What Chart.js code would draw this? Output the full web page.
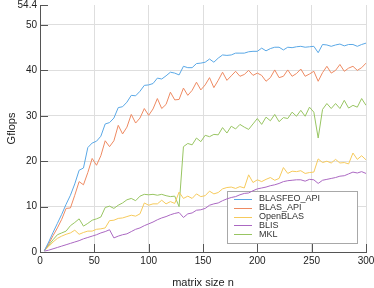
<!DOCTYPE html>
<html>
<head>
<meta charset="utf-8">
<script src="https://cdn.jsdelivr.net/npm/chart.js@4/dist/chart.umd.min.js"></script>
<style>
  html, body { margin: 0; padding: 0; background: #fff; }
  canvas { display: block; }
</style>
</head>
<body>
<canvas id="gflopsChart" width="374" height="288"></canvas>
<script>
// matrix sizes n
const sizes = [4, 8, 12, 16, 20, 24, 28, 32, 36, 40, 44, 48, 52, 56, 60, 64, 68, 72, 76, 80,
  84, 88, 92, 96, 100, 104, 108, 112, 116, 120, 124, 128, 132, 136, 140, 144, 148, 152, 156, 160,
  164, 168, 172, 176, 180, 184, 188, 192, 196, 200, 204, 208, 212, 216, 220, 224, 228, 232, 236, 240,
  244, 248, 252, 256, 260, 264, 268, 272, 276, 280, 284, 288, 292, 296, 300];

// Gflops par serie
const blasfeoApi = [0.3, 2.2, 4.3, 6.3, 8.3, 10.5, 12.5, 15.0, 18.0, 18.5, 23.0, 24.0, 24.4, 25.5, 28.2, 28.5, 29.5, 31.8, 32.0, 33.0,
  34.5, 34.4, 35.4, 36.7, 36.8, 37.1, 38.3, 38.1, 38.8, 39.6, 39.4, 39.0, 40.9, 40.6, 40.6, 41.5, 41.6, 41.8, 42.5, 41.8,
  42.7, 43.4, 43.3, 43.4, 43.8, 43.8, 43.8, 44.1, 44.2, 44.2, 44.9, 44.3, 44.8, 45.1, 45.1, 44.5, 45.1, 45.0, 45.2, 45.3,
  45.1, 45.2, 45.3, 43.9, 45.7, 45.6, 45.3, 45.6, 45.8, 45.4, 45.7, 45.7, 45.3, 45.7, 46.0];
const blasApi = [0.3, 1.8, 3.6, 5.3, 7.2, 9.6, 9.7, 12.5, 15.5, 14.8, 17.5, 20.6, 19.1, 21.2, 24.5, 23.2, 24.5, 27.9, 26.0, 27.5,
  30.3, 28.4, 29.5, 31.6, 30.1, 31.5, 33.8, 31.6, 32.5, 35.2, 33.5, 33.6, 36.1, 34.5, 35.6, 37.4, 35.7, 36.8, 38.4, 36.2,
  37.8, 39.6, 37.8, 38.8, 39.8, 38.7, 39.1, 40.0, 38.9, 39.4, 38.9, 37.6, 38.4, 40.1, 38.4, 38.7, 40.1, 38.7, 39.3, 40.3,
  38.7, 39.2, 39.8, 37.6, 39.5, 40.9, 39.4, 40.0, 41.3, 39.8, 40.5, 40.9, 40.0, 40.6, 41.6];
const openBlas = [0.3, 1.2, 2.2, 3.0, 3.5, 3.9, 4.2, 4.8, 3.9, 4.3, 4.6, 4.6, 5.0, 5.1, 5.3, 6.9, 7.0, 7.4, 7.5, 7.8,
  8.1, 7.9, 8.4, 10.8, 10.3, 10.6, 10.6, 11.4, 10.6, 11.1, 10.7, 13.2, 11.8, 12.3, 11.8, 12.8, 12.2, 12.4, 13.4, 12.8,
  13.1, 13.9, 14.2, 14.3, 14.0, 14.4, 14.1, 17.0, 15.3, 15.9, 15.5, 16.0, 16.4, 15.8, 16.2, 18.6, 17.3, 17.8, 17.7, 17.9,
  17.3, 17.5, 17.6, 20.5, 19.7, 20.0, 19.6, 20.4, 19.6, 19.7, 19.4, 21.8, 20.4, 21.2, 20.3];
const blis = [0.2, 0.4, 0.7, 1.0, 1.3, 1.6, 1.9, 2.2, 2.5, 2.9, 3.2, 3.5, 3.8, 4.2, 4.5, 4.9, 3.1, 3.5, 3.8, 4.0,
  4.5, 5.0, 5.3, 5.8, 6.2, 6.6, 7.1, 7.5, 7.8, 8.2, 8.5, 8.7, 7.6, 8.4, 8.6, 9.2, 9.3, 9.6, 10.3, 10.6,
  10.8, 11.3, 11.7, 12.0, 12.2, 12.6, 12.9, 13.0, 13.5, 13.9, 14.1, 14.3, 14.6, 14.8, 15.1, 15.5, 15.7, 15.8, 15.9, 15.9,
  15.6, 16.0, 15.9, 15.1, 15.8, 16.0, 16.2, 16.4, 16.7, 16.8, 17.2, 17.6, 17.4, 17.7, 17.3];
const mkl = [0.3, 1.5, 2.7, 3.8, 4.2, 4.6, 5.8, 6.5, 7.3, 5.7, 6.3, 7.0, 7.3, 7.7, 9.8, 10.1, 9.6, 10.3, 10.8, 11.5,
  11.8, 11.3, 12.3, 12.7, 12.6, 12.7, 12.5, 12.7, 12.4, 12.2, 12.3, 10.0, 23.2, 23.9, 23.6, 25.1, 24.3, 25.7, 25.4, 25.9,
  25.8, 27.4, 26.2, 27.7, 27.1, 28.1, 27.5, 27.0, 28.2, 29.4, 28.1, 29.7, 28.9, 30.3, 28.7, 29.6, 29.4, 30.8, 29.9, 31.2,
  29.9, 31.9, 30.8, 25.1, 31.4, 32.7, 31.6, 32.7, 31.6, 33.4, 31.7, 32.3, 31.9, 33.8, 32.3];

const seriesNames = ['BLASFEO_API', 'BLAS_API', 'OpenBLAS', 'BLIS', 'MKL'];
const seriesColors = ['#5aa8e6', '#ee8a62', '#f6ca5c', '#ab68c2', '#98c562'];
const yTicks = [0, 10, 20, 30, 40, 50, 54.4];
const xTicks = [0, 50, 100, 150, 200, 250, 300];

function pts(vals) {
  return vals.map((v, i) => ({ x: sizes[i], y: v }));
}

const allSeries = [blasfeoApi, blasApi, openBlas, blis, mkl];

const axisColor = '#555';
const gridColor = '#dedede';
const txtColor = '#222';
const fontFam = '"Liberation Sans", Arial, sans-serif';

// petits traits vers l'interieur + legende encadree
const innerStuff = {
  id: 'innerStuff',
  beforeDatasetsDraw(chart) {
    const c = chart.ctx;
    const a = chart.chartArea;
    const xs = chart.scales.x, ys = chart.scales.y;

    // legende
    const lw = 130, lh = 52;
    const lx = a.right - 9 - lw, ly = a.bottom - 9 - lh;
    c.save();
    c.fillStyle = '#fff';
    c.fillRect(lx, ly, lw, lh);
    c.strokeStyle = '#a8a8a8';
    c.lineWidth = 1;
    c.strokeRect(Math.round(lx) + 0.5, Math.round(ly) + 0.5, lw, lh);
    c.font = '9px ' + fontFam;
    c.textBaseline = 'middle';
    chart.data.datasets.forEach((ds, i) => {
      const yy = ly + 8 + i * 8.8;
      c.strokeStyle = ds.borderColor;
      c.beginPath();
      c.moveTo(lx + 7, Math.round(yy) + 0.5);
      c.lineTo(lx + 25, Math.round(yy) + 0.5);
      c.stroke();
      c.fillStyle = '#333';
      c.fillText(ds.label, lx + 32, yy);
    });

    // ticks
    c.strokeStyle = axisColor;
    c.lineWidth = 1;
    c.beginPath();
    xTicks.forEach(v => {
      const px = Math.round(xs.getPixelForValue(v)) + 0.5;
      c.moveTo(px, a.bottom);
      c.lineTo(px, a.bottom - 8);
    });
    yTicks.forEach(v => {
      const py = Math.round(ys.getPixelForValue(v)) + 0.5;
      c.moveTo(a.left, py);
      c.lineTo(a.left + 8, py);
    });
    c.stroke();
    c.restore();
  }
};

new Chart(document.getElementById('gflopsChart'), {
  type: 'line',
  data: {
    datasets: allSeries.map((vals, i) => ({
      label: seriesNames[i],
      data: pts(vals),
      borderColor: seriesColors[i],
      backgroundColor: seriesColors[i],
      borderWidth: 1,
      pointRadius: 0,
      tension: 0,
      fill: false
    }))
  },
  options: {
    responsive: false,
    animation: false,
    devicePixelRatio: 1,
    layout: { padding: { top: 5, right: 8, left: 0, bottom: 0 } },
    plugins: {
      legend: { display: false },
      tooltip: { enabled: false }
    },
    scales: {
      x: {
        type: 'linear',
        min: 0,
        max: 300,
        afterBuildTicks: s => { s.ticks = xTicks.map(v => ({ value: v })); },
        afterFit: s => { s.height = 36; s.paddingLeft = 0; s.paddingRight = 0; },
        ticks: { color: txtColor, font: { size: 10, family: fontFam }, padding: 3, maxRotation: 0 },
        grid: {
          color: ctx => (ctx.tick && ctx.tick.value === 0) ? 'rgba(0,0,0,0)' : gridColor,
          drawTicks: false
        },
        border: { color: axisColor, width: 1 },
        title: {
          display: true,
          text: 'matrix size n',
          color: txtColor,
          font: { size: 11, family: fontFam, lineHeight: 1 },
          padding: { top: 0, bottom: 0 }
        }
      },
      y: {
        min: 0,
        max: 54.4,
        afterBuildTicks: s => { s.ticks = yTicks.map(v => ({ value: v })); },
        afterFit: s => { s.width = 40; s.paddingTop = 0; s.paddingBottom = 0; },
        ticks: {
          color: txtColor,
          font: { size: 10, family: fontFam },
          padding: 3,
          callback: v => String(v)
        },
        grid: {
          color: ctx => (ctx.tick && (ctx.tick.value === 0 || ctx.tick.value === 54.4)) ? 'rgba(0,0,0,0)' : gridColor,
          drawTicks: false
        },
        border: { color: axisColor, width: 1 },
        title: {
          display: true,
          text: 'Gflops',
          color: txtColor,
          font: { size: 11, family: fontFam, lineHeight: 1 },
          padding: { top: 6, bottom: 0 }
        }
      }
    }
  },
  plugins: [innerStuff]
});
</script>
</body>
</html>
